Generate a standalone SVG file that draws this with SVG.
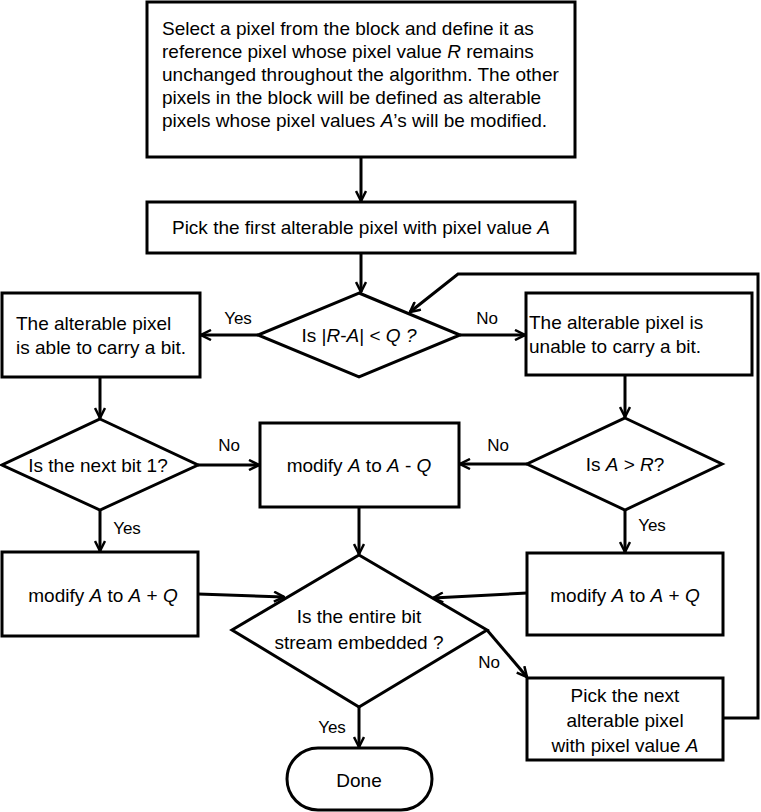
<svg xmlns="http://www.w3.org/2000/svg" width="761" height="812" viewBox="0 0 761 812">
<style>
.s{fill:#fff;stroke:#000;stroke-width:3}
.c{fill:none;stroke:#000;stroke-width:3}
text{font-family:"Liberation Sans",Arial,sans-serif;font-size:19px;fill:#000}
.l{font-size:17px}
.m{text-anchor:middle}
.i{font-style:italic}
</style>
<defs>
<marker id="ah" viewBox="0 0 12 12" refX="11" refY="6" markerWidth="12" markerHeight="12" orient="auto" markerUnits="userSpaceOnUse">
<path d="M1,1 L11,6 L1,11" fill="none" stroke="#000" stroke-width="2.5"/>
</marker>
</defs>
<g id="connectors">
<path class="c" d="M361,157 V201" marker-end="url(#ah)"/>
<path class="c" d="M361,253 V292" marker-end="url(#ah)"/>
<path class="c" d="M258,335 H201" marker-end="url(#ah)"/>
<path class="c" d="M460,335 H525" marker-end="url(#ah)"/>
<path class="c" d="M100,377 V418" marker-end="url(#ah)"/>
<path class="c" d="M625,375 V417" marker-end="url(#ah)"/>
<path class="c" d="M198,465 H259" marker-end="url(#ah)"/>
<path class="c" d="M527,464 H460" marker-end="url(#ah)"/>
<path class="c" d="M100,510 V551" marker-end="url(#ah)"/>
<path class="c" d="M625,510 V552" marker-end="url(#ah)"/>
<path class="c" d="M359,507 V554" marker-end="url(#ah)"/>
<path class="c" d="M198,594 L284,597" marker-end="url(#ah)"/>
<path class="c" d="M527,593 L433,598" marker-end="url(#ah)"/>
<path class="c" d="M487,630 L527,677" marker-end="url(#ah)"/>
<path class="c" d="M359,707 V747" marker-end="url(#ah)"/>
<path class="c" d="M723,718 H758 V274 H458 L410,312" marker-end="url(#ah)"/>
<text x="238" y="324" class="m l">Yes</text>
<text x="487" y="324" class="m l">No</text>
<text x="229" y="451" class="m l">No</text>
<text x="498" y="451" class="m l">No</text>
<text x="127" y="534" class="m l">Yes</text>
<text x="652" y="531" class="m l">Yes</text>
<text x="489" y="668" class="m l">No</text>
<text x="332" y="733" class="m l">Yes</text>
</g>
<g id="start">
<rect class="s" x="147" y="2" width="428" height="155"/>
<text x="162" y="35">Select a pixel from the block and define it as</text>
<text x="162" y="58">reference pixel whose pixel value <tspan class="i">R</tspan> remains</text>
<text x="162" y="81">unchanged throughout the algorithm. The other</text>
<text x="162" y="104">pixels in the block will be defined as alterable</text>
<text x="162" y="127">pixels whose pixel values <tspan class="i">A</tspan>’s will be modified.</text>
</g>
<g id="pickfirst">
<rect class="s" x="147" y="202" width="428" height="51"/>
<text x="361" y="234" class="m">Pick the first alterable pixel with pixel value <tspan class="i">A</tspan></text>
</g>
<g id="d1">
<polygon class="s" points="359,293 460,335 359,377 258,335"/>
<text x="359" y="342" class="m">Is |<tspan class="i">R</tspan>-<tspan class="i">A</tspan>| &lt; <tspan class="i">Q ?</tspan></text>
</g>
<g id="able">
<rect class="s" x="2" y="293" width="198" height="84"/>
<text x="16" y="330">The alterable pixel</text>
<text x="16" y="354">is able to carry a bit.</text>
</g>
<g id="unable">
<rect class="s" x="526" y="293" width="226" height="82"/>
<text x="529" y="329">The alterable pixel is</text>
<text x="529" y="353">unable to carry a bit.</text>
</g>
<g id="d2">
<polygon class="s" points="100,419 198,465 100,510 2,465"/>
<text x="98" y="472" class="m">Is the next bit 1?</text>
</g>
<g id="minus">
<rect class="s" x="260" y="423" width="199" height="84"/>
<text x="359" y="472" class="m">modify <tspan class="i">A</tspan> to <tspan class="i">A</tspan> - <tspan class="i">Q</tspan></text>
</g>
<g id="d3">
<polygon class="s" points="625,418 722,464 625,510 527,464"/>
<text x="625" y="471" class="m">Is <tspan class="i">A</tspan> &gt; <tspan class="i">R</tspan>?</text>
</g>
<g id="plusL">
<rect class="s" x="2" y="552" width="196" height="84"/>
<text x="103" y="602" class="m">modify <tspan class="i">A</tspan> to <tspan class="i">A</tspan> + <tspan class="i">Q</tspan></text>
</g>
<g id="plusR">
<rect class="s" x="527" y="553" width="196" height="82"/>
<text x="625" y="602" class="m">modify <tspan class="i">A</tspan> to <tspan class="i">A</tspan> + <tspan class="i">Q</tspan></text>
</g>
<g id="d4">
<polygon class="s" points="359,555 487,630 359,707 232,630"/>
<text x="359" y="623" class="m">Is the entire bit</text>
<text x="359" y="649" class="m">stream embedded  ?</text>
</g>
<g id="picknext">
<rect class="s" x="527" y="678" width="196" height="82"/>
<text x="625" y="702" class="m">Pick the next</text>
<text x="625" y="727" class="m">alterable pixel</text>
<text x="625" y="752" class="m">with pixel value <tspan class="i">A</tspan></text>
</g>
<g id="done">
<rect class="s" x="287" y="748" width="145" height="62" rx="31" ry="31"/>
<text x="359" y="787" class="m">Done</text>
</g>
</svg>
